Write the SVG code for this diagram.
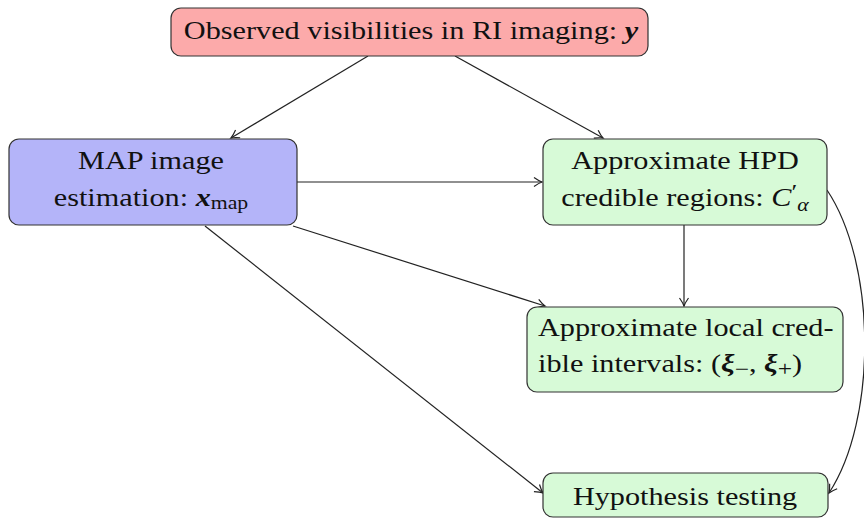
<svg xmlns="http://www.w3.org/2000/svg" width="864" height="518" viewBox="0 0 864 518">
<style>
.box{stroke:#333;stroke-width:1.2}
.red{fill:#fcaaaa}
.blue{fill:#b4b4f9}
.green{fill:#d7fad7}
text{font-family:"Liberation Serif","DejaVu Serif",serif;font-size:25px;fill:#111}
.c{stroke:#222;stroke-width:1.2;fill:none}
.sub{font-size:18px}
.pm{font-size:21px}
</style>
<defs>
<marker id="ah" viewBox="-10 -6 12 12" refX="0" refY="0" markerWidth="12" markerHeight="12" markerUnits="userSpaceOnUse" orient="auto">
<path d="M-8,-4.5 Q-3,-1 0,0 Q-3,1 -8,4.5" fill="none" stroke="#222" stroke-width="1.2"/>
</marker>
</defs>
<rect width="864" height="518" fill="#fff"/>
<g id="connectors">
<line class="c" x1="368" y1="56" x2="231" y2="138" marker-end="url(#ah)"/>
<line class="c" x1="455" y1="56" x2="603" y2="138" marker-end="url(#ah)"/>
<line class="c" x1="297" y1="182" x2="542" y2="182" marker-end="url(#ah)"/>
<line class="c" x1="293" y1="226" x2="545" y2="306" marker-end="url(#ah)"/>
<line class="c" x1="205" y1="226" x2="543" y2="493" marker-end="url(#ah)"/>
<line class="c" x1="684" y1="225" x2="684" y2="306" marker-end="url(#ah)"/>
<path class="c" d="M827,190 C877,265 877,420 829,493" marker-end="url(#ah)"/>
</g>
<g id="observed">
<rect class="box red" x="171" y="8" width="477" height="48" rx="10"/>
<g transform="translate(411 0) scale(1.21 1)">
<text x="0" y="39" text-anchor="middle">Observed visibilities in RI imaging: <tspan font-weight="bold" font-style="italic">y</tspan></text>
</g>
</g>
<g id="map">
<rect class="box blue" x="9" y="139" width="288" height="86" rx="10"/>
<g transform="translate(151 0) scale(1.21 1)">
<text x="0" y="169.5" text-anchor="middle">MAP image</text>
<text x="0" y="206.5" text-anchor="middle">estimation: <tspan font-weight="bold" font-style="italic">x</tspan><tspan class="sub" dy="3">map</tspan></text>
</g>
</g>
<g id="hpd">
<rect class="box green" x="543" y="139" width="284" height="86" rx="10"/>
<g transform="translate(685 0) scale(1.21 1)">
<text x="0" y="169.5" text-anchor="middle">Approximate HPD</text>
<text x="0" y="206.5" text-anchor="middle">credible regions: <tspan font-style="italic">C</tspan><tspan dy="-7" font-size="22">′</tspan><tspan class="sub" font-style="italic" dy="12">α</tspan></text>
</g>
</g>
<g id="local">
<rect class="box green" x="527" y="307" width="316" height="85" rx="10"/>
<g transform="translate(538 0) scale(1.21 1)">
<text x="0" y="336">Approximate local cred-</text>
<text x="0" y="372">ible intervals: (<tspan font-weight="bold" font-style="italic">ξ</tspan><tspan class="pm" dy="4">−</tspan><tspan dy="-4">, </tspan><tspan font-weight="bold" font-style="italic">ξ</tspan><tspan class="pm" dy="4">+</tspan><tspan dy="-4">)</tspan></text>
</g>
</g>
<g id="hypothesis">
<rect class="box green" x="543" y="473" width="285" height="44" rx="10"/>
<g transform="translate(685 0) scale(1.21 1)">
<text x="0" y="505" text-anchor="middle">Hypothesis testing</text>
</g>
</g>
</svg>
